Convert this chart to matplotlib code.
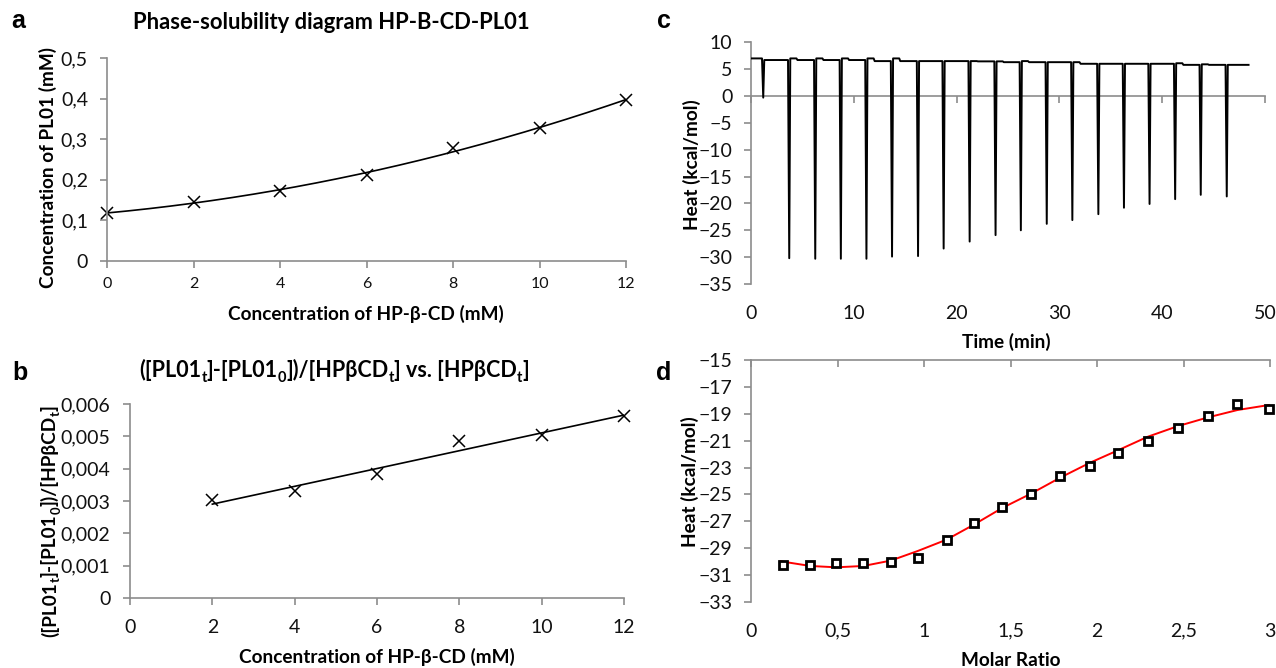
import numpy as np
import matplotlib
matplotlib.use('Agg')
import matplotlib.pyplot as plt
from matplotlib.ticker import FuncFormatter

plt.rcParams['font.family'] = ['Lato', 'DejaVu Sans']

# ---------------- data ----------------
# panel a: phase-solubility
cd_conc_a = [0, 2, 4, 6, 8, 10, 12]
pl01_conc = [0.118, 0.145, 0.173, 0.211, 0.279, 0.327, 0.397]

# panel b
cd_conc_b = [2, 4, 6, 8, 10, 12]
ratio_b = [0.00302, 0.00330, 0.00383, 0.00487, 0.00503, 0.00563]

# panel c: raw ITC thermogram
start_baseline = 7.0
inj_time = [1.19, 3.72, 6.25, 8.74, 11.23, 13.72, 16.25, 18.74, 21.27, 23.79,
            26.25, 28.77, 31.26, 33.79, 36.28, 38.77, 41.26, 43.75, 46.28]
inj_min = [-0.3, -30.2, -30.3, -30.3, -30.3, -29.9, -29.8, -28.4, -27.1, -25.9,
           -25.0, -23.8, -23.1, -22.0, -20.8, -20.1, -19.2, -18.4, -18.7]
inj_rebound = [6.7, 7.0, 7.0, 7.0, 7.0, 7.0, 6.5, 6.5, 6.5, 6.45,
               6.5, 6.3, 6.3, 6.0, 6.0, 6.0, 6.1, 5.9, 5.8]
baseline_after = [6.7, 6.7, 6.7, 6.7, 6.5, 6.5, 6.5, 6.5, 6.45, 6.3,
                  6.3, 6.3, 6.0, 6.0, 6.0, 6.0, 5.8, 5.8, 5.8]
end_time = 48.4

# panel d: integrated heats
molar_ratio = [0.183, 0.343, 0.493, 0.650, 0.808, 0.965, 1.131, 1.289, 1.453,
               1.620, 1.786, 1.958, 2.124, 2.293, 2.467, 2.641, 2.812, 2.993]
heat_d = [-30.22, -30.22, -30.12, -30.12, -30.02, -29.72, -28.41, -27.12, -25.97,
          -24.93, -23.64, -22.87, -21.90, -21.01, -20.09, -19.20, -18.30, -18.62]
fit_ratio = [0.17, 0.343, 0.493, 0.650, 0.808, 0.965, 1.131, 1.289, 1.453,
             1.620, 1.786, 1.958, 2.124, 2.293, 2.467, 2.641, 2.812, 2.993]
fit_heat = [-29.97, -30.32, -30.42, -30.32, -29.92, -29.20, -28.36, -27.24, -26.00,
            -24.93, -23.76, -22.65, -21.70, -20.71, -19.92, -19.27, -18.72, -18.35]

# ---------------- figure ----------------
W, H = 1276, 668
fig = plt.figure(figsize=(W / 100, H / 100), dpi=100)
renderer = fig.canvas.get_renderer()


def rect(l, r, t, b):
    return [l / W, 1 - b / H, (r - l) / W, (b - t) / H]


def px(x, y):
    return x / W, 1 - y / H


def rich(xc, yb, pieces, size, vertical=False):
    """Draw bold text with subscripts, centred on xc (or yc if vertical).
    pieces: list of (text, is_subscript). Coordinates in pixels from top-left."""
    texts, lengths = [], []
    for s, sub in pieces:
        fs = size * 0.68 if sub else size
        t = fig.text(0, 0, s, fontsize=fs, fontweight='bold', ha='left',
                     va='baseline', rotation=90 if vertical else 0,
                     rotation_mode='anchor')
        bb = t.get_window_extent(renderer)
        texts.append((t, sub, fs))
        lengths.append(bb.height if vertical else bb.width)
    total = sum(lengths)
    pos = -total / 2.0
    for (t, sub, fs), L in zip(texts, lengths):
        shift = fs * 0.45 if sub else 0.0  # pixels (dpi 100 ~ 1.39 px/pt)
        if vertical:
            t.set_position(px(yb + shift, xc - pos))
        else:
            t.set_position(px(xc + pos, yb + shift))
        pos += L


GRAY = '#8c8c8c'
comma = FuncFormatter(lambda v, p: ('%g' % v).replace('.', ','))


def style(ax):
    for s in ['top', 'right']:
        ax.spines[s].set_visible(False)
    for s in ['left', 'bottom', 'top']:
        ax.spines[s].set_color(GRAY)
        ax.spines[s].set_linewidth(1.2)
    ax.tick_params(colors=GRAY, labelcolor='#111111', length=5, width=1.2,
                   direction='out')


LBL = dict(fontweight='bold', fontsize=13.7)
YT = 14
XT = 14

# ---- panel a ----
axa = fig.add_axes(rect(107.4, 626, 58.3, 260.7))
style(axa)
coef_a = np.polyfit(cd_conc_a, pl01_conc, 2)
xs = np.linspace(0, 12, 200)
axa.plot(xs, np.polyval(coef_a, xs), color='black', lw=1.2)
axa.plot(cd_conc_a, pl01_conc, 'x', color='black', ms=8, mew=1.1, clip_on=False)
axa.set_xlim(0, 12)
axa.set_ylim(0, 0.5)
axa.set_xticks(range(0, 13, 2))
axa.set_yticks(np.arange(0, 0.51, 0.1))
axa.yaxis.set_major_formatter(comma)
axa.tick_params(axis='y', labelsize=YT, pad=9)
axa.tick_params(axis='x', labelsize=11.5, pad=7)

fig.text(*px(331, 29), 'Phase-solubility diagram HP-B-CD-PL01', ha='center',
         va='baseline', fontsize=15.8, fontweight='bold')
fig.text(*px(366, 320), 'Concentration of HP-β-CD (mM)', ha='center',
         va='baseline', **LBL)
fig.text(*px(48, 168), 'Concentration of PL01 (mM)', ha='center', va='center',
         rotation=90, **LBL)

# ---- panel b ----
axb = fig.add_axes(rect(130, 624, 404, 598))
style(axb)
coef_b = np.polyfit(cd_conc_b, ratio_b, 1)
xb = np.array([cd_conc_b[0], cd_conc_b[-1]])
axb.plot(xb, np.polyval(coef_b, xb), color='black', lw=1.2)
axb.plot(cd_conc_b, ratio_b, 'x', color='black', ms=8, mew=1.1, clip_on=False)
axb.set_xlim(0, 12)
axb.set_ylim(0, 0.006)
axb.set_xticks(range(0, 13, 2))
axb.set_yticks(np.arange(0, 0.0061, 0.001))
axb.yaxis.set_major_formatter(comma)
axb.tick_params(axis='y', labelsize=YT, pad=9)
axb.tick_params(axis='x', labelsize=XT, pad=10)

rich(334, 377, [('([PL01', False), ('t', True), (']-[PL01', False), ('0', True),
                ('])/[HPβCD', False), ('t', True), ('] vs. [HPβCD', False),
                ('t', True), (']', False)], 15.5)
fig.text(*px(377, 663), 'Concentration of HP-β-CD (mM)', ha='center',
         va='baseline', **LBL)
rich(521, 56, [('([PL01', False), ('t', True), (']-[PL01', False), ('0', True),
               ('])/[HPβCD', False), ('t', True), (']', False)], 13.7,
     vertical=True)

# ---- panel c ----
axc = fig.add_axes(rect(751, 1265, 42.3, 284))
style(axc)
t_trace = [0.0]
h_trace = [start_baseline]
prev = start_baseline
for ti, mi, ri, bi in zip(inj_time, inj_min, inj_rebound, baseline_after):
    t_trace += [ti - 0.12, ti, ti + 0.1, ti + 0.7, ti + 0.8]
    h_trace += [prev, mi, ri, ri, bi]
    prev = bi
t_trace.append(end_time)
h_trace.append(prev)
axc.plot(t_trace, h_trace, color='black', lw=1.4, zorder=3)
axc.set_xlim(0, 50)
axc.set_ylim(-35, 10)
axc.set_yticks(range(-35, 11, 5))
axc.set_xticks(range(0, 51, 10))
axc.spines['bottom'].set_position(('data', 0))
axc.tick_params(axis='x', labelbottom=False)
axc.tick_params(axis='y', labelsize=YT, pad=8.5)
sec = axc.secondary_xaxis('bottom')
sec.set_xticks(range(0, 51, 10))
sec.spines['bottom'].set_visible(False)
sec.tick_params(length=0, pad=15, labelsize=XT, labelcolor='#111111')

fig.text(*px(1006, 348), 'Time (min)', ha='center', va='baseline', **LBL)
fig.text(*px(692, 165), 'Heat (kcal/mol)', ha='center', va='center',
         rotation=90, **LBL)

# ---- panel d ----
axd = fig.add_axes(rect(751, 1270, 360, 602))
style(axd)
axd.spines['top'].set_visible(True)
axd.spines['bottom'].set_visible(False)
axd.plot(fit_ratio, fit_heat, color='#ff0000', lw=1.4, zorder=2)
axd.plot(molar_ratio, heat_d, 's', ms=6, mfc='white', mec='black', mew=2,
         zorder=3, clip_on=False)
axd.set_xlim(0, 3)
axd.set_ylim(-33, -15)
axd.set_xticks(np.arange(0, 3.01, 0.5))
axd.set_yticks(range(-33, -14, 2))
axd.xaxis.set_major_formatter(comma)
axd.tick_params(axis='x', bottom=False, top=True, labelbottom=True,
                labeltop=False, direction='in', labelsize=XT, pad=15)
axd.tick_params(axis='y', labelsize=YT, pad=8.5)

fig.text(*px(1011, 666), 'Molar Ratio', ha='center', va='baseline', **LBL)
fig.text(*px(690, 482), 'Heat (kcal/mol)', ha='center', va='center',
         rotation=90, **LBL)

# panel letters
for lab, (x, y) in zip('abcd', [(18, 28), (20, 380), (664, 28), (664, 380)]):
    fig.text(*px(x, y), lab, ha='center', va='baseline', fontsize=18,
             fontweight='bold', family='Liberation Sans')

fig.savefig('out.png', dpi=100, facecolor='white')
